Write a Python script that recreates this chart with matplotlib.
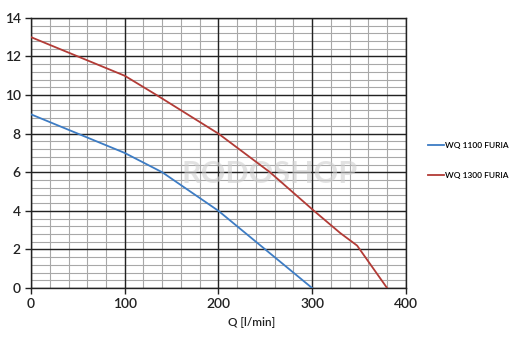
import matplotlib
matplotlib.use("Agg")
import matplotlib.pyplot as plt
import numpy as np

# Pump performance curves: head H [m] vs flow Q [l/min]
q_1100 = [0, 50, 100, 140, 200, 250, 300]
h_1100 = [9, 8, 7, 6, 4, 2, 0]

q_1300 = [0, 50, 100, 134, 200, 255, 302, 330, 348, 380]
h_1300 = [13, 12, 11, 10, 8, 6, 4, 2.85, 2.2, 0]

series_names = ["WQ 1100 FURIA", "WQ 1300 FURIA"]
x_ticks = [0, 100, 200, 300, 400]
y_ticks = [0, 2, 4, 6, 8, 10, 12, 14]

plt.rcParams['font.family'] = ['Lato', 'DejaVu Sans']

fig = plt.figure(figsize=(5.17, 3.5), dpi=100)
ax = fig.add_axes([0.060, 0.177, 0.725, 0.772])

ax.set_xlim(0, 400)
ax.set_ylim(0, 14)

# minor grid
for x in np.arange(0, 401, 20):
    ax.axvline(x, color="#a8a8a8", lw=0.8, zorder=1)
for y in np.arange(0, 14.01, 0.4):
    ax.axhline(y, color="#a8a8a8", lw=0.8, zorder=1)
# major grid
for x in x_ticks:
    ax.axvline(x, color="#222222", lw=1.0, zorder=2)
for y in y_ticks:
    ax.axhline(y, color="#222222", lw=1.0, zorder=2)

ax.text(255, 5.9, "RODOSHOP", fontsize=22, fontweight="bold", color="#d0d0d0",
        alpha=0.6, ha="center", va="center", zorder=3)

ax.plot(q_1100, h_1100, color="#3d7cc4", lw=1.3, zorder=5, label=series_names[0])
ax.plot(q_1300, h_1300, color="#b23b36", lw=1.3, zorder=5, label=series_names[1])

ax.set_xticks(x_ticks)
ax.set_yticks(y_ticks)
ax.tick_params(axis="both", labelsize=10, length=4, width=1.0, color="#222222",
               labelcolor="#222222")
for lab in ax.get_xticklabels() + ax.get_yticklabels():
    lab.set_fontweight("semibold")
for s in ax.spines.values():
    s.set_color("#222222")
    s.set_linewidth(1.0)

fig.text(252 / 517, 1 - 323 / 350, "Q [l/min]", fontsize=8.5, fontweight="semibold",
         color="#222222", ha="center", va="center")

ax.legend(loc="upper left", bbox_to_anchor=(1.05, 0.553), frameon=False, fontsize=6,
          handlelength=1.9, handletextpad=0.1, labelspacing=2.75, borderaxespad=0,
          prop={"size": 6, "weight": "semibold"})

fig.savefig("out.png", dpi=100, facecolor="white")
